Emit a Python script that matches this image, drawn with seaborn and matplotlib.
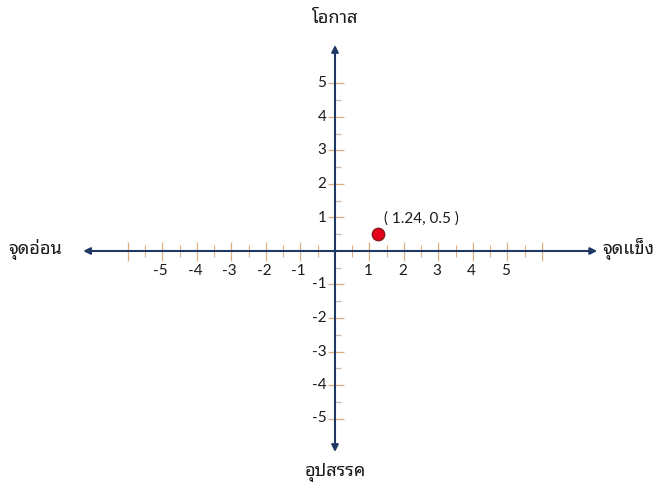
import numpy as np
import pandas as pd
import matplotlib
matplotlib.use("Agg")
import matplotlib.pyplot as plt
import seaborn as sns

# ข้อมูล
point_x = [1.24]
point_y = [0.5]
point_label = "( 1.24, 0.5 )"
x_tick_labels = [-5, -4, -3, -2, -1, 1, 2, 3, 4, 5]
y_tick_labels = [-5, -4, -3, -2, -1, 1, 2, 3, 4, 5]
label_right = "จุดแข็ง"
label_left = "จุดอ่อน"
label_top = "โอกาส"
label_bottom = "อุปสรรค"

sns.set_theme(style="white")
plt.rcParams["font.family"] = ["Lato", "Noto Sans Thai Looped", "DejaVu Sans"]

navy = "#1f3864"
tick_major = "#dcae84"
tick_minor = "#cdbcae"
txt = "#1a1a1a"

fig = plt.figure(figsize=(6.58, 4.86), dpi=100)
ax = fig.add_axes([0, 0, 1, 1])
ax.set_xlim(-335 / 34.5, (658 - 335) / 34.5)
ax.set_ylim(-(486 - 251) / 33.5, 251 / 33.5)
ax.axis("off")

# ขีดแกน x
xt = np.arange(-6, 6.01, 0.5)
xt = xt[xt != 0]
xmaj = xt[xt % 1 == 0]
xmin = xt[xt % 1 != 0]
ax.vlines(xmaj, -0.3, 0.27, color=tick_major, lw=0.9)
ax.vlines(xmin, -0.18, 0.18, color=tick_major, lw=0.8)

# ขีดแกน y
yt = np.arange(-5, 5.01, 0.5)
yt = yt[yt != 0]
ymaj = yt[yt % 1 == 0]
ymin = yt[yt % 1 != 0]
ax.hlines(ymaj, -0.2, 0.25, color=tick_major, lw=0.9)
ax.hlines(ymin, 0, 0.17, color=tick_minor, lw=0.9)

# แกนพร้อมลูกศร
ax.annotate("", xy=(7.6, 0), xytext=(-7.3, 0),
            arrowprops=dict(arrowstyle="<|-|>", color=navy, lw=1.5,
                            mutation_scale=10, shrinkA=0, shrinkB=0))
ax.annotate("", xy=(0, 6.15), xytext=(0, -6.0),
            arrowprops=dict(arrowstyle="<|-|>", color=navy, lw=1.5,
                            mutation_scale=10, shrinkA=0, shrinkB=0))

# ตัวเลขบนแกน
for v in x_tick_labels:
    ax.text(v - 0.05, -0.6, str(v), ha="center", va="center",
            fontsize=11, color=txt)
for v in y_tick_labels:
    ax.text(-0.25, v, str(v), ha="right", va="center",
            fontsize=11, color=txt)

# ชื่อแกน
thai = ["Noto Sans Thai Looped", "DejaVu Sans"]
ax.text(-7.9, 0.05, label_left, ha="right", va="center", fontsize=13,
        family=thai, weight="medium", color=txt)
ax.text(7.75, 0.05, label_right, ha="left", va="center", fontsize=13,
        family=thai, weight="medium", color=txt)
ax.text(0, 6.95, label_top, ha="center", va="center", fontsize=13,
        family=thai, weight="medium", color=txt)
ax.text(0, -6.6, label_bottom, ha="center", va="center", fontsize=13,
        family=thai, weight="medium", color=txt)

# จุด
df = pd.DataFrame({"x": point_x, "y": point_y})
sns.scatterplot(data=df, x="x", y="y", ax=ax, s=80, color="#e3001b",
                edgecolor="#8b1a1a", linewidth=1, legend=False, zorder=5)
ax.annotate(point_label, (point_x[0], point_y[0]), xytext=(6, 16),
            textcoords="offset pixels", ha="left", va="center",
            fontsize=11, color=txt)
ax.axis("off")

fig.savefig("out.png", dpi=100)
